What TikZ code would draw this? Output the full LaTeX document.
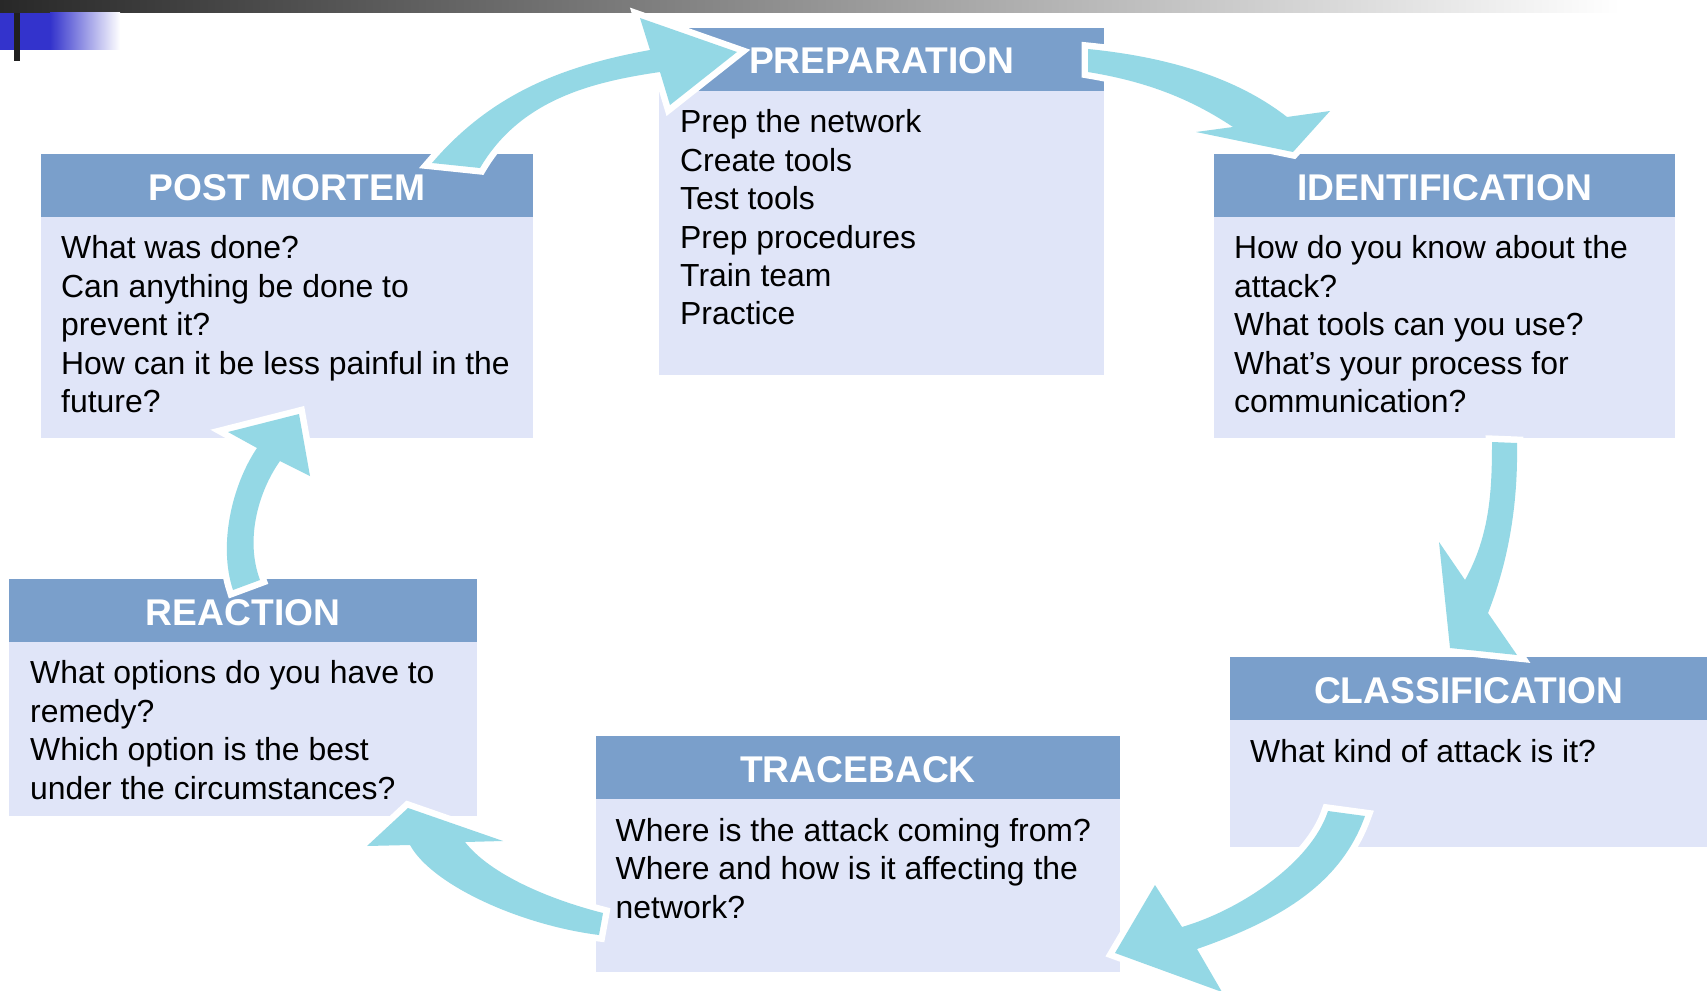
\documentclass[tikz,border=0pt]{standalone}
\usepackage{fontspec}
\setmainfont{Liberation Sans}

\definecolor{headblue}{RGB}{122,159,203}
\definecolor{bodyblue}{RGB}{224,229,248}
\definecolor{arrowcyan}{RGB}{148,216,229}
\definecolor{logoblue}{RGB}{51,51,204}
\definecolor{bardark}{RGB}{40,40,40}

\newcommand{\bodyfont}{\fontsize{31.9pt}{38.4pt}\selectfont}
\newcommand{\headfont}{\fontsize{37.2pt}{44pt}\selectfont\bfseries}
\newcommand{\firstrule}{\rule{0pt}{30pt}}

\begin{document}
\begin{tikzpicture}[x=1pt,y=-1pt,
  head/.style={fill=headblue, text=white, font=\headfont, minimum height=63pt,
    inner sep=0pt, anchor=north west, text height=29pt, text depth=0pt},
  body/.style={fill=bodyblue, inner sep=0pt, anchor=north west},
  txt/.style={font=\bodyfont, align=left, inner sep=0pt, anchor=north west, text=black},
  blockarrow/.style={fill=arrowcyan,
    preaction={draw=white, line width=13pt, line join=miter}}]

% page
\fill[white] (0,0) rectangle (1707,990);
\useasboundingbox (0,0) rectangle (1707,990);

% title bar and corner mark
\shade[left color=bardark, right color=white] (0,0) rectangle (1620,13);
\fill[logoblue] (0,13) rectangle (50,50);
\shade[left color=logoblue, right color=white] (50,13) rectangle (120,50);
\fill[bardark!80!black] (14,13) rectangle (20,61);

% POST MORTEM
\node[body, minimum width=491.7pt, minimum height=221pt] (pmbody) at (41,216.7) {};
\node[head, minimum width=491.7pt] (pmhead) at (41,154) {POST MORTEM};
\node[txt] (pmtext) at (61,228.7) {\firstrule What was done?\\Can anything be done to\\prevent it?\\How can it be less painful in the\\future?};

% PREPARATION
\node[body, minimum width=445pt, minimum height=283.6pt] (prbody) at (659,90.7) {};
\node[head, minimum width=445pt] (prhead) at (659,27.7) {PREPARATION};
\node[txt] (prtext) at (680,102.7) {\firstrule Prep the network\\Create tools\\Test tools\\Prep procedures\\Train team\\Practice};

% IDENTIFICATION
\node[body, minimum width=460.7pt, minimum height=221pt] (idbody) at (1214,216.7) {};
\node[head, minimum width=460.7pt] (idhead) at (1214,154) {IDENTIFICATION};
\node[txt] (idtext) at (1234,228.7) {\firstrule How do you know about the\\attack?\\What tools can you use?\\What’s your process for\\communication?};

% CLASSIFICATION
\node[body, minimum width=477pt, minimum height=127pt] (clbody) at (1230,720) {};
\node[head, minimum width=477pt] (clhead) at (1230,657) {CLASSIFICATION};
\node[txt] (cltext) at (1250,732) {\firstrule What kind of attack is it?};

% TRACEBACK
\node[body, minimum width=524.5pt, minimum height=173pt] (tbbody) at (595.5,799) {};
\node[head, minimum width=524.5pt] (tbhead) at (595.5,736) {TRACEBACK};
\node[txt] (tbtext) at (615.5,811) {\firstrule Where is the attack coming from?\\Where and how is it affecting the\\network?};

% REACTION
\node[body, minimum width=467.7pt, minimum height=174pt] (rebody) at (9,641.7) {};
\node[head, minimum width=467.7pt] (rehead) at (9,579) {REACTION};
\node[txt] (retext) at (30,653.7) {\firstrule What options do you have to\\remedy?\\Which option is the best\\under the circumstances?};

% curved block arrows of the cycle
% post mortem -> preparation
\fill[blockarrow] (432,163) .. controls (491,94) and (562,66) .. (650,50)
  -- (640,18) -- (737,52) -- (670,105) -- (660,72)
  .. controls (591,82) and (520,100) .. (480,168) -- cycle;
% preparation -> identification
\fill[blockarrow] (1088,49) .. controls (1158,56) and (1232,74) .. (1287,117)
  -- (1330,111) -- (1293,152) -- (1196,132) -- (1233,127)
  .. controls (1188,97) and (1143,81) .. (1088,72) -- cycle;
% identification -> classification
\fill[blockarrow] (1517,443) .. controls (1518,500) and (1510,557) .. (1488,613)
  -- (1517,655) -- (1450,648) -- (1439,542) -- (1465,580)
  .. controls (1490,535) and (1492,490) .. (1492,442) -- cycle;
% classification -> traceback
\fill[blockarrow] (1365,816) .. controls (1340,886) and (1277,921) .. (1197,949)
  -- (1222,992) -- (1115,953) -- (1155,885) -- (1182,927)
  .. controls (1240,910) and (1311,863) .. (1328,811) -- cycle;
% traceback -> reaction
\fill[blockarrow] (603,913) .. controls (548,899) and (490,874) .. (465,842)
  -- (503,841) -- (408,808) -- (367,846) -- (410,845)
  .. controls (432,885) and (520,925) .. (599,935) -- cycle;
% reaction -> post mortem
\fill[blockarrow] (233,590) .. controls (218,545) and (232,485) .. (257,448)
  -- (228,432) -- (299,414) -- (310,476) -- (280,461)
  .. controls (258,492) and (245,540) .. (260,580) -- cycle;

\end{tikzpicture}
\end{document}
